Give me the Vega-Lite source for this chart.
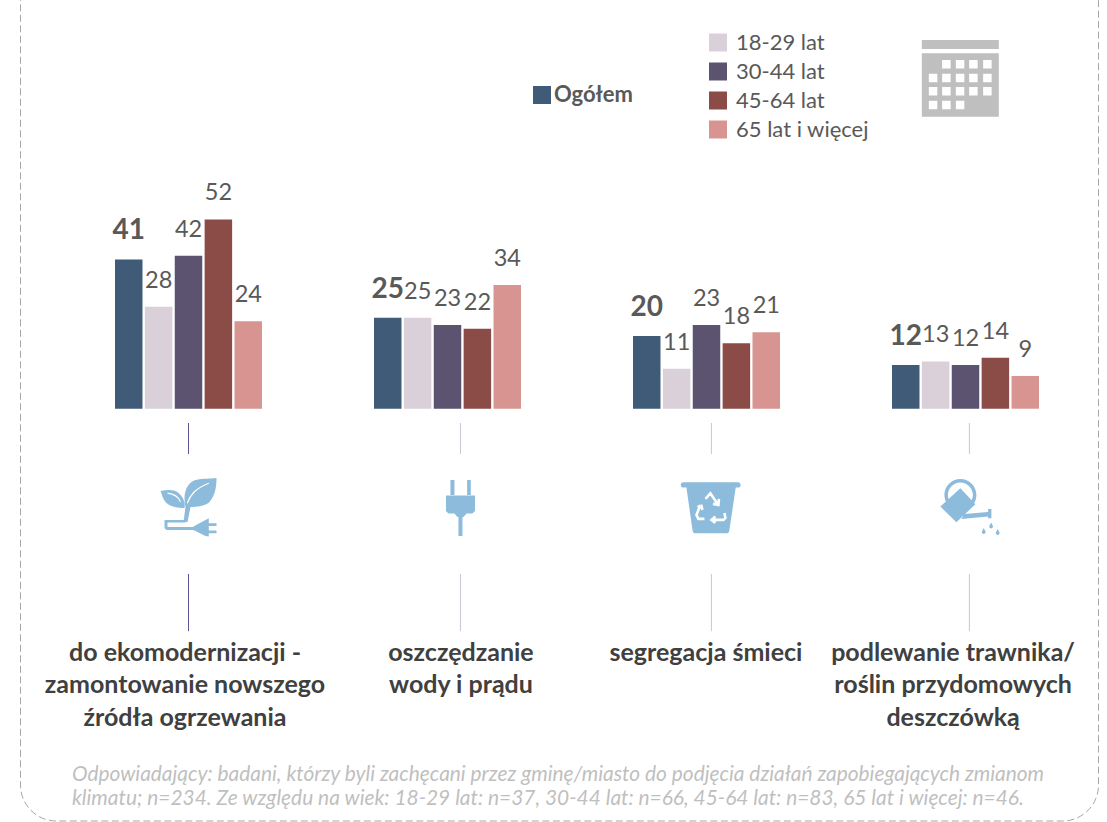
{"$schema":"https://vega.github.io/schema/vega-lite/v6.json","width":1107,"height":822,"padding":0,"autosize":"none","background":"white","config":{"view":{"stroke":null},"font":"Lato","legend":{"padding":0,"symbolType":"square","symbolSize":324,"symbolStrokeWidth":0,"labelColor":"#595959","labelFont":"Lato","title":null}},
"datasets":{"bars":[
{"kategoria":"a","seria":"Ogółem","wartosc":41},{"kategoria":"a","seria":"18-29 lat","wartosc":28},{"kategoria":"a","seria":"30-44 lat","wartosc":42},{"kategoria":"a","seria":"45-64 lat","wartosc":52},{"kategoria":"a","seria":"65 lat i więcej","wartosc":24},
{"kategoria":"b","seria":"Ogółem","wartosc":25},{"kategoria":"b","seria":"18-29 lat","wartosc":25},{"kategoria":"b","seria":"30-44 lat","wartosc":23},{"kategoria":"b","seria":"45-64 lat","wartosc":22},{"kategoria":"b","seria":"65 lat i więcej","wartosc":34},
{"kategoria":"c","seria":"Ogółem","wartosc":20},{"kategoria":"c","seria":"18-29 lat","wartosc":11},{"kategoria":"c","seria":"30-44 lat","wartosc":23},{"kategoria":"c","seria":"45-64 lat","wartosc":18},{"kategoria":"c","seria":"65 lat i więcej","wartosc":21},
{"kategoria":"d","seria":"Ogółem","wartosc":12},{"kategoria":"d","seria":"18-29 lat","wartosc":13},{"kategoria":"d","seria":"30-44 lat","wartosc":12},{"kategoria":"d","seria":"45-64 lat","wartosc":14},{"kategoria":"d","seria":"65 lat i więcej","wartosc":9}],
"rules":[{"u":0,"v1":-3.93,"v2":-12.45},{"u":0,"v1":-45.4,"v2":-61.1},{"u":1.05,"v1":-3.93,"v2":-12.45},{"u":1.05,"v1":-45.4,"v2":-61.1},{"u":2.019,"v1":-3.93,"v2":-12.45},{"u":2.019,"v1":-45.4,"v2":-61.1},{"u":3.015,"v1":-3.93,"v2":-12.45},{"u":3.015,"v1":-45.4,"v2":-61.1}],
"icons":[{"ikona":"roslina","u":0,"v":-27.8},{"ikona":"wtyczka","u":1.05,"v":-27.8},{"ikona":"kosz","u":2.019,"v":-27.8},{"ikona":"konewka","u":3.015,"v":-27.8}],
"labels":[{"tekst":"do ekomodernizacji -\nzamontowanie nowszego\nźródła ogrzewania","u":-0.0135,"v":-63.8},{"tekst":"oszczędzanie\nwody i prądu","u":1.052,"v":-63.8},{"tekst":"segregacja śmieci","u":1.998,"v":-63.8},{"tekst":"podlewanie trawnika/\nroślin przydomowych\ndeszczówką","u":2.952,"v":-63.8}]},
"layer":[
{"data":{"values":[{"u1":-0.6486,"u2":3.5135,"v1":121.6,"v2":-113.27}]},"mark":{"type":"rect","filled":false,"stroke":"#A6A6A6","strokeWidth":1,"strokeDash":[7,3.5],"cornerRadius":36},
"encoding":{"x":{"field":"u1","type":"quantitative","scale":{"domain":[-0.7278,3.5463],"range":[0,1107],"nice":false,"zero":false},"axis":null},"x2":{"field":"u2"},"y":{"field":"v1","type":"quantitative","scale":{"domain":[-113.54,112.28],"range":[822,0],"nice":false,"zero":false},"axis":null},"y2":{"field":"v2"}}},
{"data":{"name":"bars"},"transform":[{"filter":"datum.seria!='Ogółem'"}],"mark":{"type":"bar"},
"encoding":{"x":{"field":"kategoria","type":"nominal","scale":{"domain":["a","b","c","d"],"range":[59,1095],"paddingInner":0,"paddingOuter":0},"axis":null},
"xOffset":{"field":"seria","type":"nominal","scale":{"domain":["Ogółem","18-29 lat","30-44 lat","45-64 lat","65 lat i więcej"],"range":[56,203],"paddingInner":0.08,"paddingOuter":0}},
"y":{"field":"wartosc","type":"quantitative","stack":null,"scale":{"domain":[-113.54,112.28],"range":[822,0],"nice":false,"zero":false},"axis":null},
"color":{"field":"seria","type":"nominal","scale":{"domain":["18-29 lat","30-44 lat","45-64 lat","65 lat i więcej"],"range":["#D9D0D9","#5B5370","#8B4B47","#D89490"]},"legend":{"orient":"none","legendX":707,"legendY":31.5,"labelFontSize":22,"labelOffset":7,"rowPadding":7,"labelBaseline":"middle","encoding":{"labels":{"enter":{"dy":{"value":-3.5}},"update":{"dy":{"value":-3.5}}}}}}}},
{"data":{"name":"bars"},"transform":[{"filter":"datum.seria=='Ogółem'"}],"mark":{"type":"bar"},
"encoding":{"x":{"field":"kategoria","type":"nominal","scale":{"domain":["a","b","c","d"],"range":[59,1095],"paddingInner":0,"paddingOuter":0},"axis":null},
"xOffset":{"field":"seria","type":"nominal","scale":{"domain":["Ogółem","18-29 lat","30-44 lat","45-64 lat","65 lat i więcej"],"range":[56,203],"paddingInner":0.08,"paddingOuter":0}},
"y":{"field":"wartosc","type":"quantitative","stack":null,"scale":{"domain":[-113.54,112.28],"range":[822,0],"nice":false,"zero":false},"axis":null},
"fill":{"field":"seria","type":"nominal","scale":{"domain":["Ogółem"],"range":["#3F5B77"]},"legend":{"orient":"none","legendX":531,"legendY":84,"labelFontSize":22,"labelFontWeight":"bold","labelOffset":1,"encoding":{"labels":{"enter":{"dy":{"value":-2}},"update":{"dy":{"value":-2}}}}}}}},
{"data":{"name":"bars"},"transform":[{"filter":"datum.seria!='Ogółem'"}],"mark":{"type":"text","fontSize":23.5,"color":"#595959","baseline":"alphabetic","dy":-19},
"encoding":{"x":{"field":"kategoria","type":"nominal","scale":{"domain":["a","b","c","d"],"range":[59,1095],"paddingInner":0,"paddingOuter":0},"axis":null},
"xOffset":{"field":"seria","type":"nominal","scale":{"domain":["Ogółem","18-29 lat","30-44 lat","45-64 lat","65 lat i więcej"],"range":[56,203],"paddingInner":0.08,"paddingOuter":0}},
"y":{"field":"wartosc","type":"quantitative","stack":null,"scale":{"domain":[-113.54,112.28],"range":[822,0],"nice":false,"zero":false},"axis":null},"text":{"field":"wartosc","type":"quantitative"}}},
{"data":{"name":"bars"},"transform":[{"filter":"datum.seria=='Ogółem'"}],"mark":{"type":"text","fontSize":28,"fontWeight":"bold","color":"#595959","baseline":"alphabetic","dy":-20},
"encoding":{"x":{"field":"kategoria","type":"nominal","scale":{"domain":["a","b","c","d"],"range":[59,1095],"paddingInner":0,"paddingOuter":0},"axis":null},
"xOffset":{"field":"seria","type":"nominal","scale":{"domain":["Ogółem","18-29 lat","30-44 lat","45-64 lat","65 lat i więcej"],"range":[56,203],"paddingInner":0.08,"paddingOuter":0}},
"y":{"field":"wartosc","type":"quantitative","stack":null,"scale":{"domain":[-113.54,112.28],"range":[822,0],"nice":false,"zero":false},"axis":null},"text":{"field":"wartosc","type":"quantitative"}}},
{"data":{"name":"rules"},"mark":{"type":"rule","strokeWidth":1},
"encoding":{"x":{"field":"u","type":"quantitative","scale":{"domain":[-0.7278,3.5463],"range":[0,1107],"nice":false,"zero":false},"axis":null},"y":{"field":"v1","type":"quantitative","scale":{"domain":[-113.54,112.28],"range":[822,0],"nice":false,"zero":false},"axis":null},"y2":{"field":"v2"},"color":{"condition":{"test":"datum.u==0","value":"#5F5596"},"value":"#C9C6D6"}}},
{"data":{"name":"icons"},"mark":{"type":"point","filled":true,"size":4,"opacity":1,"color":"#8CBBDC"},
"encoding":{"x":{"field":"u","type":"quantitative","scale":{"domain":[-0.7278,3.5463],"range":[0,1107],"nice":false,"zero":false},"axis":null},"y":{"field":"v","type":"quantitative","scale":{"domain":[-113.54,112.28],"range":[822,0],"nice":false,"zero":false},"axis":null},
"shape":{"field":"ikona","type":"nominal","legend":null,"scale":{"domain":["roslina","wtyczka","kosz","konewka"],"range":[
"M-3,-3C-6,-16,-2,-27,7,-30C14,-32,22,-31,28,-32C28,-24,27,-14,20,-7C14,-3,6,-3,-3,-3ZM-28,-19C-22,-20,-15,-21,-10,-17C-5,-13,-3,-7,-4,-2C-10,-2,-18,-3,-22,-7C-26,-11,-26,-15,-28,-19ZM-3,-3L2,-3L-1,12L-5,12ZM-24,10H-3V12.5H-21V17H6V20H-22L-24,18ZM5,16.7L17,10L20.3,8.3V26.7L17,26L5,20ZM20,13.3H28V16H20ZM20,20.5H28V23.3H20Z",
"M-10,-30H-6V-15H-10ZM6.7,-30H10.3V-15H6.7ZM-14.5,-14.5H14.5V1L12,3.5H6L3,7H-3L-6,3.5H-12L-14.5,1ZM-2,7H2V26H-2Z",
"M-28,-27.7H26.5A2.7,2.7,0,0,1,26.5,-22.3H24.3L17.8,21A2.5,2.5,0,0,1,15.5,23.3H-16.5A2.5,2.5,0,0,1,-18.8,21L-25,-22.3H-28A2.7,2.7,0,0,1,-28,-27.7Z",
"M-25,-15A16,16,0,1,1,7,-15A16,16,0,1,1,-25,-15ZM-21.5,-15A12.5,12.5,0,1,0,3.5,-15A12.5,12.5,0,1,0,-21.5,-15ZM-29,-3.3L-9,-21.7L6,-5.7L-13,12.3ZM-5,4L18.7,2V-1H22V8.3H18.7V6.7L-8,9ZM21.7,12.5L23.5,16A1.9,1.9,0,1,1,19.9,16ZM14.3,18L16.1,21.5A1.9,1.9,0,1,1,12.5,21.5ZM28.3,19L30.1,22.5A1.9,1.9,0,1,1,26.5,22.5Z"]}}}},
{"data":{"values":[{"u":0,"v":-27.8}]},"mark":{"type":"point","filled":false,"size":4,"opacity":1,"stroke":"white","strokeWidth":1.2,"shape":"M-1.3,-6.7C2,-15,6,-21,20.3,-26.7M-21,-16.7C-15,-16,-10,-13,-8,-8"},
"encoding":{"x":{"field":"u","type":"quantitative","scale":{"domain":[-0.7278,3.5463],"range":[0,1107],"nice":false,"zero":false},"axis":null},"y":{"field":"v","type":"quantitative","scale":{"domain":[-113.54,112.28],"range":[822,0],"nice":false,"zero":false},"axis":null}}},
{"data":{"values":[{"u":2.019,"v":-27.8}]},"mark":{"type":"point","filled":false,"size":4,"opacity":1,"stroke":"white","strokeWidth":2.6,"shape":"M-6,-11L-1,-16.5L6,-6M7.5,-11L7,-5L1.5,-6M-11,-5L-15,5L-13,9H-7M-14,-3L-10,-4L-9,0M13,3L14,8L12,10H0M4,6.5L0,10L4,13"},
"encoding":{"x":{"field":"u","type":"quantitative","scale":{"domain":[-0.7278,3.5463],"range":[0,1107],"nice":false,"zero":false},"axis":null},"y":{"field":"v","type":"quantitative","scale":{"domain":[-113.54,112.28],"range":[822,0],"nice":false,"zero":false},"axis":null}}},
{"data":{"values":[{"u":2.98,"v":90.85}]},"mark":{"type":"point","filled":true,"size":4,"opacity":1,"color":"#BFBFBF","shape":"M-38.5,-38H38.5V-29H-38.5ZM-38.5,-24.7H38.5V38.7H-38.5ZM-18.2,-18v8.5h8.5v-8.5ZM-4.5,-18v8.5h8.5v-8.5ZM8.8,-18v8.5h8.5v-8.5ZM22.8,-18v8.5h8.5v-8.5ZM-31.5,-4.3v8.5h8.5v-8.5ZM-18.2,-4.3v8.5h8.5v-8.5ZM-4.5,-4.3v8.5h8.5v-8.5ZM8.8,-4.3v8.5h8.5v-8.5ZM22.8,-4.3v8.5h8.5v-8.5ZM-31.5,9v8.5h8.5v-8.5ZM-18.2,9v8.5h8.5v-8.5ZM-4.5,9v8.5h8.5v-8.5ZM8.8,9v8.5h8.5v-8.5ZM22.8,9v8.5h8.5v-8.5ZM-31.5,22.7v8.5h8.5v-8.5ZM-18.2,22.7v8.5h8.5v-8.5ZM-4.5,22.7v8.5h8.5v-8.5Z"},
"encoding":{"x":{"field":"u","type":"quantitative","scale":{"domain":[-0.7278,3.5463],"range":[0,1107],"nice":false,"zero":false},"axis":null},"y":{"field":"v","type":"quantitative","scale":{"domain":[-113.54,112.28],"range":[822,0],"nice":false,"zero":false},"axis":null}}},
{"data":{"name":"labels"},"mark":{"type":"text","fontSize":25,"fontWeight":"bold","color":"#404040","baseline":"top","align":"center","lineBreak":"\n","lineHeight":32.5},
"encoding":{"x":{"field":"u","type":"quantitative","scale":{"domain":[-0.7278,3.5463],"range":[0,1107],"nice":false,"zero":false},"axis":null},"y":{"field":"v","type":"quantitative","scale":{"domain":[-113.54,112.28],"range":[822,0],"nice":false,"zero":false},"axis":null},"text":{"field":"tekst"}}},
{"data":{"values":[{"tekst":"Odpowiadający: badani, którzy byli zachęcani przez gminę/miasto do podjęcia działań zapobiegających zmianom\nklimatu; n=234. Ze względu na wiek: 18-29 lat: n=37, 30-44 lat: n=66, 45-64 lat: n=83, 65 lat i więcej: n=46.","u":-0.45,"v":-97.55}]},"mark":{"type":"text","fontSize":20.9,"fontStyle":"italic","color":"#BFBFBF","baseline":"top","align":"left","lineBreak":"\n","lineHeight":24},
"encoding":{"x":{"field":"u","type":"quantitative","scale":{"domain":[-0.7278,3.5463],"range":[0,1107],"nice":false,"zero":false},"axis":null},"y":{"field":"v","type":"quantitative","scale":{"domain":[-113.54,112.28],"range":[822,0],"nice":false,"zero":false},"axis":null},"text":{"field":"tekst"}}}
],"resolve":{"scale":{"x":"independent"}}}
